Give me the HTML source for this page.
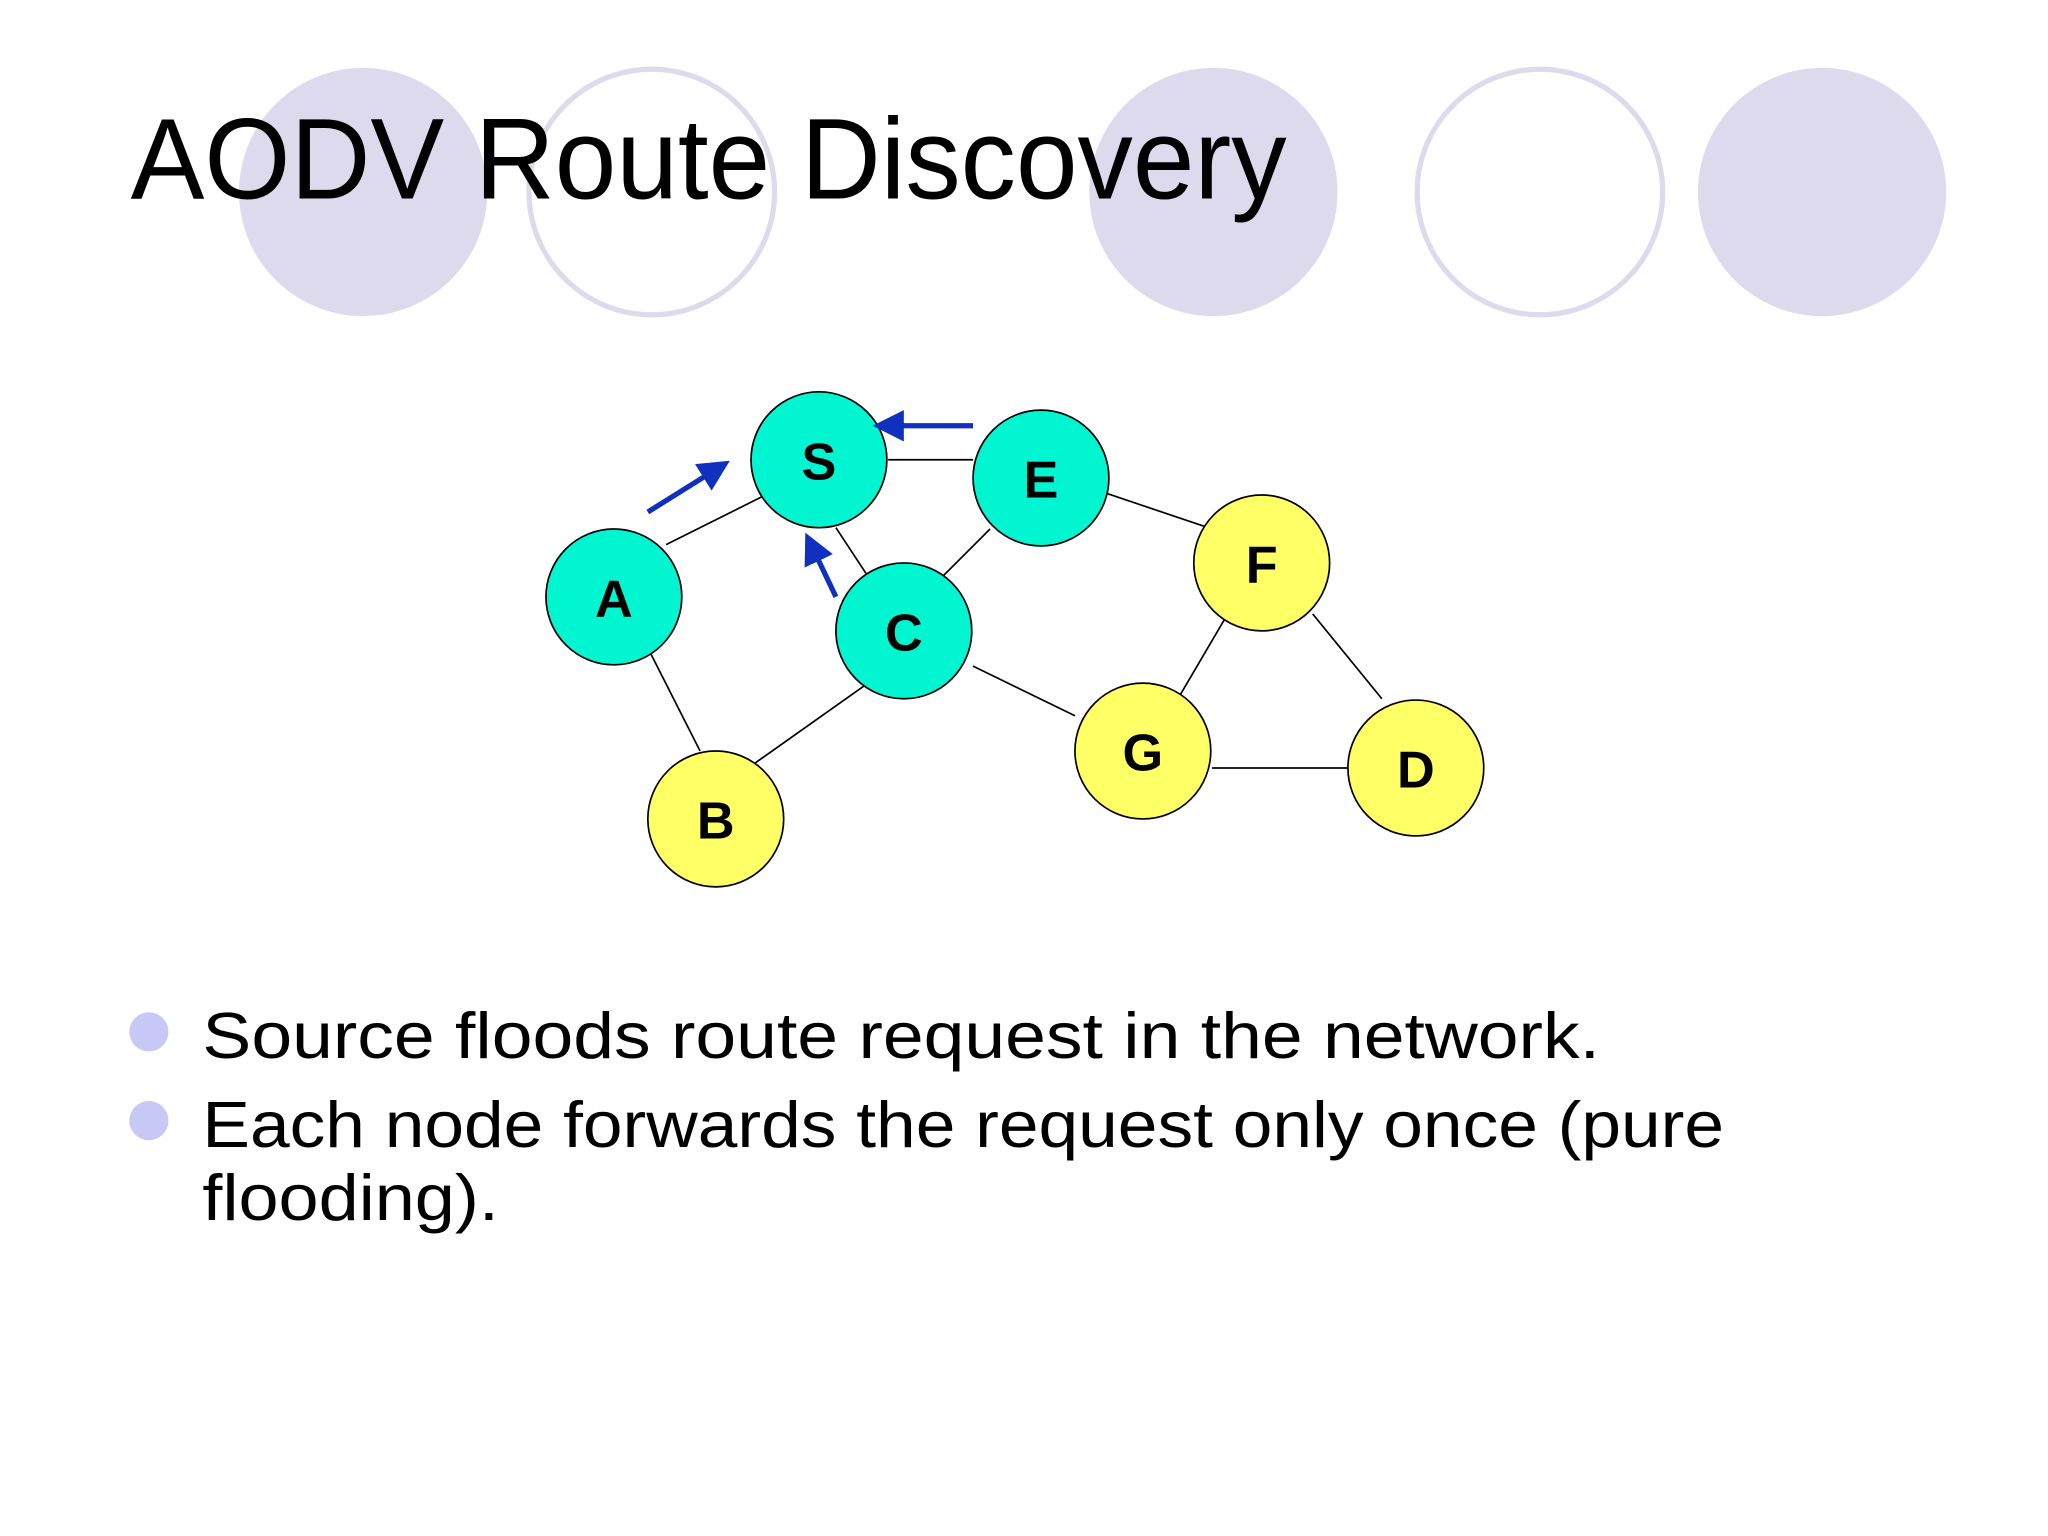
<!DOCTYPE html>
<html><head><style>html,body{margin:0;padding:0;background:#fff}svg{display:block}</style></head>
<body>
<svg width="2048" height="1536" viewBox="0 0 1568 1176" xmlns="http://www.w3.org/2000/svg">
<rect width="1568" height="1176" fill="#fff"/>
<g fill="#dcdaec">
<circle cx="278" cy="147" r="95"/><circle cx="929" cy="147" r="95"/><circle cx="1395" cy="147" r="95"/>
</g>
<g fill="none" stroke="#dcdaec" stroke-width="4">
<circle cx="499" cy="147" r="94"/><circle cx="1179" cy="147" r="94"/>
</g>
<text x="100" y="152" font-family="Liberation Sans, sans-serif" font-size="88" fill="#000" textLength="885" lengthAdjust="spacingAndGlyphs">AODV Route Discovery</text>
<g stroke="#000" stroke-width="1.3">
<line x1="510" y1="417" x2="586" y2="379"/><line x1="680" y1="352" x2="745" y2="352"/>
<line x1="640" y1="404" x2="665" y2="442"/><line x1="758" y1="405" x2="720" y2="443"/>
<line x1="848" y1="378" x2="928" y2="405"/><line x1="497" y1="498" x2="536" y2="575"/>
<line x1="577" y1="585" x2="666" y2="522"/><line x1="745" y1="510" x2="823" y2="548"/>
<line x1="940" y1="470" x2="903" y2="533"/><line x1="1005" y1="470" x2="1058" y2="535"/>
<line x1="928" y1="588" x2="1032" y2="588"/>
</g>
<g stroke="#000" stroke-width="1.3">
<circle cx="627" cy="352" r="52" fill="#00f5d0"/><circle cx="797" cy="366" r="52" fill="#00f5d0"/>
<circle cx="470" cy="457" r="52" fill="#00f5d0"/><circle cx="692" cy="483" r="52" fill="#00f5d0"/>
<circle cx="966" cy="431" r="52" fill="#ffff66"/><circle cx="875" cy="575" r="52" fill="#ffff66"/>
<circle cx="1084" cy="588" r="52" fill="#ffff66"/><circle cx="548" cy="627" r="52" fill="#ffff66"/>
</g>
<g font-family="Liberation Sans, sans-serif" font-weight="bold" font-size="40" text-anchor="middle" fill="#000">
<text x="627" y="367">S</text><text x="797" y="381">E</text><text x="470" y="472">A</text><text x="692" y="498">C</text>
<text x="966" y="446">F</text><text x="875" y="590">G</text><text x="1084" y="603">D</text><text x="548" y="642">B</text>
</g>
<defs><marker id="ah" markerWidth="6" markerHeight="6" refX="4" refY="3" orient="auto"><path d="M0,0 L6,3 L0,6 z" fill="#1030c0"/></marker></defs>
<g stroke="#1030c0" stroke-width="4" marker-end="url(#ah)">
<line x1="496" y1="392" x2="552" y2="357"/><line x1="745" y1="326" x2="676" y2="326"/><line x1="640" y1="457" x2="620" y2="415"/>
</g>
<circle cx="114" cy="790" r="15" fill="#c8c8f6"/><circle cx="114" cy="858" r="15" fill="#c8c8f6"/>
<g font-family="Liberation Sans, sans-serif" font-size="50" fill="#000">
<text x="155" y="810" textLength="1070" lengthAdjust="spacingAndGlyphs">Source floods route request in the network.</text>
<text x="155" y="878" textLength="1165" lengthAdjust="spacingAndGlyphs">Each node forwards the request only once (pure</text>
<text x="155" y="934" textLength="227" lengthAdjust="spacingAndGlyphs">flooding).</text>
</g>
</svg>
</body></html>
